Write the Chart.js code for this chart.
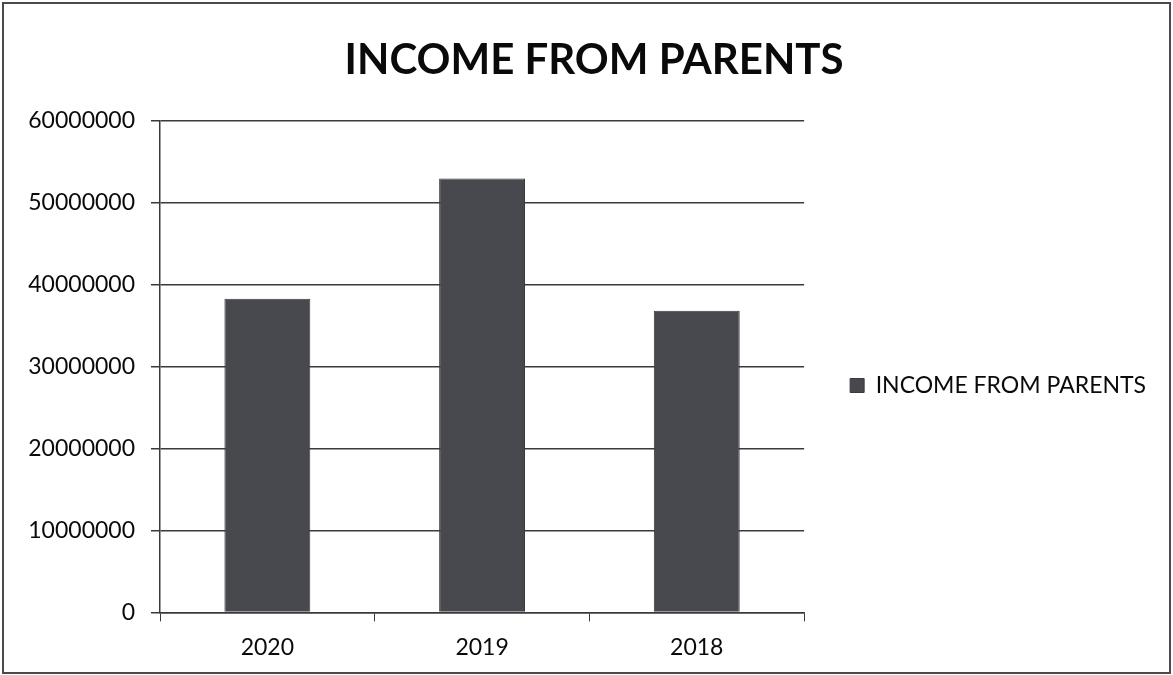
<!DOCTYPE html>
<html>
<head>
<meta charset="utf-8">
<script src="https://cdn.jsdelivr.net/npm/chart.js@4.4.1/dist/chart.umd.min.js"></script>
<style>
  html, body { margin: 0; padding: 0; background: #ffffff; }
  #wrap { width: 1173px; height: 675px; position: relative; }
</style>
</head>
<body>
<div id="wrap"><canvas id="c" width="1173" height="675"></canvas></div>
<script>
const categories = ["2020", "2019", "2018"];
const incomeFromParents = [38250000, 52900000, 36800000];
const seriesName = "INCOME FROM PARENTS";
const chartTitle = "INCOME FROM PARENTS";
const yTicks = [0, 10000000, 20000000, 30000000, 40000000, 50000000, 60000000];

const FONT = "Lato, 'Open Sans', 'Liberation Sans', sans-serif";

const framePlugin = {
  id: 'frame',
  afterLayout(chart) {
    // shift title block slightly right, as in the original
    if (chart.titleBlock) {
      chart.titleBlock.left += 16;
      chart.titleBlock.right += 16;
    }
  },
  beforeDraw(chart) {
    const ctx = chart.ctx;
    ctx.save();
    ctx.fillStyle = '#ffffff';
    ctx.fillRect(0, 0, chart.width, chart.height);
    ctx.strokeStyle = '#4a4a4a';
    ctx.lineWidth = 2;
    ctx.strokeRect(3, 3, chart.width - 6, chart.height - 5);
    ctx.restore();
  }
};

new Chart(document.getElementById('c'), {
  type: 'bar',
  data: {
    labels: categories,
    datasets: [{
      label: seriesName,
      data: incomeFromParents,
      backgroundColor: '#48484f',
      borderColor: '#3a3a40',
      borderWidth: 1,
      barPercentage: 0.4,
      categoryPercentage: 1.0
    }]
  },
  options: {
    responsive: false,
    animation: false,
    devicePixelRatio: 1,
    layout: { padding: { left: 0, right: 17, top: 0, bottom: 2 } },
    plugins: {
      title: {
        display: true,
        text: chartTitle,
        color: '#0a0a0a',
        font: { family: FONT, size: 42, weight: 'bold' },
        padding: { top: 35, bottom: 35 }
      },
      legend: {
        display: true,
        position: 'right',
        maxWidth: 420,
        title: {
          display: true,
          text: ' ',
          font: { family: FONT, size: 10 },
          padding: { top: 86, bottom: 0 }
        },
        labels: {
          color: '#0a0a0a',
          font: { family: FONT, size: 23 },
          boxWidth: 14,
          boxHeight: 14,
          padding: 46
        }
      },
      tooltip: { enabled: false }
    },
    scales: {
      x: {
        grid: {
          display: true,
          drawOnChartArea: false,
          drawTicks: true,
          tickLength: 9,
          color: '#3a3a3a',
          offset: true
        },
        border: { display: true, color: '#3a3a3a', width: 1.5 },
        ticks: {
          color: '#0a0a0a',
          font: { family: FONT, size: 23 },
          padding: 12
        }
      },
      y: {
        min: 0,
        max: 60000000,
        afterFit(axis) { axis.width = 160; },
        afterBuildTicks(axis) { axis.ticks = yTicks.map(v => ({ value: v })); },
        grid: {
          display: true,
          drawOnChartArea: true,
          drawTicks: true,
          tickLength: 9,
          color: '#3a3a3a',
          lineWidth: 1.5
        },
        border: { display: true, color: '#3a3a3a', width: 1.5 },
        ticks: {
          color: '#0a0a0a',
          font: { family: FONT, size: 23 },
          padding: 16,
          callback: (v) => String(v)
        }
      }
    }
  },
  plugins: [framePlugin]
});
</script>
</body>
</html>
